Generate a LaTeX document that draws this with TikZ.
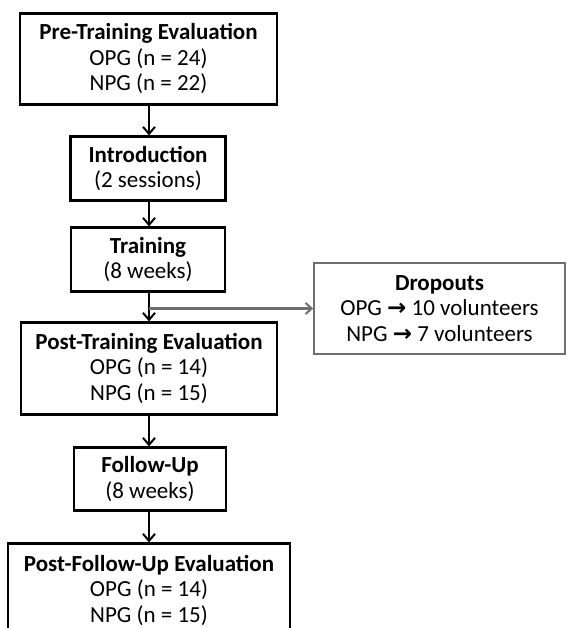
\documentclass[tikz,border=0pt]{standalone}
\usepackage{fontspec}
\setmainfont{Carlito}
\newfontfamily\arrowfont{DejaVu Sans}
\usetikzlibrary{arrows.meta}
\definecolor{dropgray}{RGB}{110,110,110}
\tikzset{
  stagebox/.style={draw=black, line width=2.2pt, align=center, inner sep=0pt,
    font=\fontsize{23}{25.5}\selectfont},
  dropbox/.style={draw=dropgray, line width=1.8pt, align=center, inner sep=0pt,
    font=\fontsize{23}{25.5}\selectfont},
  flow/.style={draw=black, line width=2pt, -{Straight Barb[length=7pt,width=12pt,line width=2pt]}},
  dropflow/.style={draw=dropgray, line width=2.3pt, -{Straight Barb[length=6pt,width=11pt,line width=2pt]}}
}
\newcommand{\rarr}{{\arrowfont\bfseries →}}
\begin{document}
\begin{tikzpicture}[x=1pt,y=-1pt]
\useasboundingbox (0,0) rectangle (568,628);
\clip (0,0) rectangle (568,628);
\node[stagebox, minimum width=257pt, minimum height=91pt] (b1) at (148.5,59)
  {\textbf{Pre-Training Evaluation}\\OPG (n = 24)\\NPG (n = 22)};
\node[stagebox, minimum width=155pt, minimum height=64pt] (b2) at (148,168.5)
  {\textbf{Introduction}\\(2 sessions)};
\node[stagebox, minimum width=154pt, minimum height=64pt] (b3) at (148,259.5)
  {\textbf{Training}\\(8 weeks)};
\node[stagebox, minimum width=256pt, minimum height=92pt] (b4) at (149,368.5)
  {\textbf{Post-Training Evaluation}\\OPG (n = 14)\\NPG (n = 15)};
\node[stagebox, minimum width=152pt, minimum height=63pt] (b5) at (150,479)
  {\textbf{Follow-Up}\\(8 weeks)};
\node[stagebox, minimum width=282pt, minimum height=94pt] (b6) at (149,590.5)
  {\textbf{Post-Follow-Up Evaluation}\\OPG (n = 14)\\NPG (n = 15)};
\node[dropbox, minimum width=251pt, minimum height=91pt] (d) at (439.5,308.5)
  {\textbf{Dropouts}\\OPG \rarr{} 10 volunteers\\NPG \rarr{} 7 volunteers};
\coordinate (br) at (149,308.5);
\draw[flow] (b1.south -| 149,0) -- (149,0 |- b2.north);
\draw[flow] (b2.south -| 149,0) -- (149,0 |- b3.north);
\draw[flow] (b3.south -| 149,0) -- (149,0 |- b4.north);
\draw[flow] (b4.south -| 149,0) -- (149,0 |- b5.north);
\draw[flow] (b5.south -| 149,0) -- (149,0 |- b6.north);
\draw[dropflow] (br) -- (d.west);
\end{tikzpicture}
\end{document}
